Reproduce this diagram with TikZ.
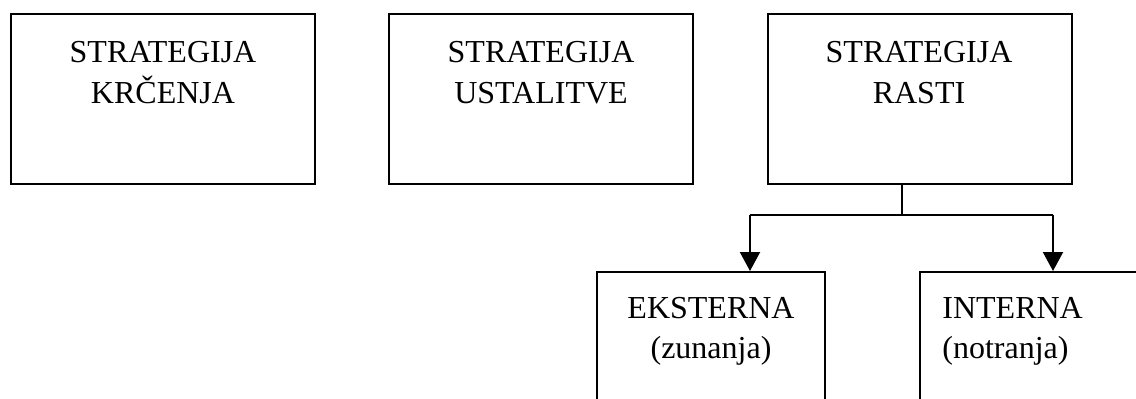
\documentclass[tikz,border=0pt]{standalone}
\usepackage{fontspec}
\setmainfont{Liberation Serif}
\usetikzlibrary{arrows.meta}
\begin{document}
\begin{tikzpicture}[x=0.5pt,y=-0.5pt,
  box/.style={draw=black,line width=1pt,rectangle,inner sep=0pt,fill=none},
  topbox/.style={box,minimum width=152pt,minimum height=85pt},
  subbox/.style={box,minimum height=89pt},
  lbl/.style={font=\fontsize{16pt}{20pt}\selectfont,inner sep=0pt,anchor=base},
  lblw/.style={lbl,anchor=base west},
  link/.style={draw=black,line width=1pt},
  arrowlink/.style={link,-{Triangle[width=10pt,length=9.5pt]}}]
  \useasboundingbox (0,0) rectangle (1136,398);
  \clip (0,0) rectangle (1136,398);

  % top row of strategy boxes
  \node[topbox] (krc) at (163,99) {};
  \node[topbox] (ust) at (541,99) {};
  \node[topbox] (rast) at (920,99) {};

  \node[lbl] (krc1) at (163,62) {STRATEGIJA};
  \node[lbl] (krc2) at (163,103) {KRČENJA};
  \node[lbl] (ust1) at (541,62) {STRATEGIJA};
  \node[lbl] (ust2) at (541,103) {USTALITVE};
  \node[lbl] (rast1) at (919,62) {STRATEGIJA};
  \node[lbl] (rast2) at (919,103) {RASTI};

  % lower boxes (running past the bottom edge)
  \node[subbox,minimum width=114pt] (eks) at (711,361) {};
  \node[subbox,minimum width=140pt] (int) at (1060,361) {};

  \node[lbl] (eks1) at (711,318) {EKSTERNA};
  \node[lbl] (eks2) at (711,358) {(zunanja)};
  \node[lblw] (int1) at (942,318) {INTERNA};
  \node[lblw] (int2) at (942,358) {(notranja)};

  % branching connector from growth strategy
  \coordinate (j) at (902,215);
  \coordinate (aL) at (750,215);
  \coordinate (aR) at (1053,215);
  \draw[link] (j |- rast.south) -- (j);
  \draw[link] (aL) -- (aR);
  \draw[arrowlink] (aL) -- (aL |- eks.north);
  \draw[arrowlink] (aR) -- (aR |- int.north);
\end{tikzpicture}
\end{document}
